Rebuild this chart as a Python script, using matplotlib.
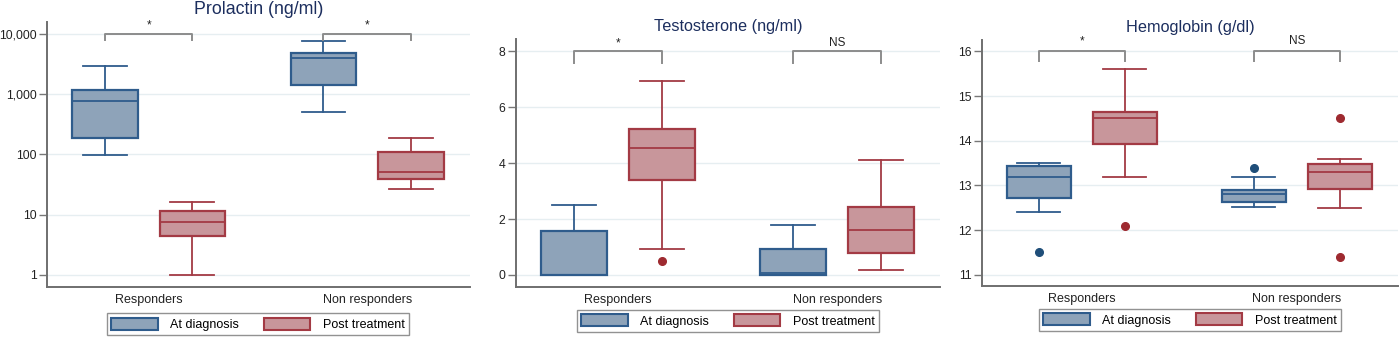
import matplotlib.pyplot as plt
import numpy as np

plt.rcParams['font.family'] = ['Liberation Sans', 'DejaVu Sans']

groups = ['Responders', 'Non responders']
series = ['At diagnosis', 'Post treatment']

# box stats per panel: [whislo, q1, med, q3, whishi], order: resp diag, resp post, nonresp diag, nonresp post
prl_stats = [[96, 188, 785, 1165, 2900],
             [1, 4.4, 7.6, 11.5, 16.5],
             [500, 1410, 4060, 4900, 7650],
             [27, 39, 51, 109, 184]]
prl_fliers = [[], [], [], []]

tes_stats = [[0, 0, 0, 1.57, 2.5],
             [0.94, 3.41, 4.53, 5.23, 6.95],
             [0, 0.01, 0.08, 0.93, 1.79],
             [0.17, 0.79, 1.61, 2.44, 4.1]]
tes_fliers = [[], [0.51], [], []]

hb_stats = [[12.4, 12.72, 13.2, 13.44, 13.5],
            [13.2, 13.92, 14.5, 14.65, 15.6],
            [12.51, 12.62, 12.81, 12.89, 13.2],
            [12.5, 12.92, 13.31, 13.49, 13.6]]
hb_fliers = [[11.5], [12.1], [13.4], [14.5, 11.4]]

# significance labels per group
prl_sig = ['*', '*']
tes_sig = ['*', 'NS']
hb_sig = ['*', 'NS']

fill_cols = ['#8ea3b9', '#c8969b']
edge_cols = ['#2f5c8c', '#a33a44']
dot_cols = ['#1f4e79', '#9e2a30']

fig = plt.figure(figsize=(14, 3.38), dpi=100)

panels = [
  dict(title='Prolactin (ng/ml)', stats=prl_stats, fliers=prl_fliers, sig=prl_sig,
       rect=[0.0336, 0.151, 0.302, 0.784], log=True, ylim=(0.63, 15800),
       ticks=[1, 10, 100, 1000, 10000], labels=['1', '10', '100', '1,000', '10,000'],
       br=(10000, 8070), txt=13800, tsize=12.8, legx=258 / 1400, legy=0.041),
  dict(title='Testosterone (ng/ml)', stats=tes_stats, fliers=tes_fliers, sig=tes_sig,
       rect=[0.3686, 0.151, 0.303, 0.734], log=False, ylim=(-0.43, 8.45),
       ticks=[0, 2, 4, 6, 8], labels=['0', '2', '4', '6', '8'],
       br=(8.0, 7.6), txt=8.3, tsize=11.7, legx=728 / 1400, legy=0.050),
  dict(title='Hemoglobin (g/dl)', stats=hb_stats, fliers=hb_fliers, sig=hb_sig,
       rect=[0.7014, 0.154, 0.297, 0.728], log=False, ylim=(10.75, 16.26),
       ticks=[11, 12, 13, 14, 15, 16], labels=['11', '12', '13', '14', '15', '16'],
       br=(16.01, 15.78), txt=16.23, tsize=11.7, legx=1190 / 1400, legy=0.053),
]

positions = [0.8, 1.2, 1.8, 2.2]

for p in panels:
  ax = fig.add_axes(p['rect'])
  if p['log']:
    ax.set_yscale('log')
  bxstats = []
  for s, fl in zip(p['stats'], p['fliers']):
    bxstats.append(dict(whislo=s[0], q1=s[1], med=s[2], q3=s[3], whishi=s[4], fliers=fl))
  for i in range(4):
    k = i % 2
    ax.bxp([bxstats[i]], positions=[positions[i]], widths=0.3, patch_artist=True,
           boxprops=dict(facecolor=fill_cols[k], edgecolor=edge_cols[k], linewidth=1.6),
           medianprops=dict(color=edge_cols[k], linewidth=1.3),
           whiskerprops=dict(color=edge_cols[k], linewidth=1.3),
           capprops=dict(color=edge_cols[k], linewidth=1.3),
           flierprops=dict(marker='o', markerfacecolor=dot_cols[k], markeredgecolor=dot_cols[k], markersize=5.5),
           capwidths=0.2, manage_ticks=False)

  # brackets
  for g in range(2):
    x0, x1 = positions[2 * g], positions[2 * g + 1]
    ax.plot([x0, x0, x1, x1], [p['br'][1], p['br'][0], p['br'][0], p['br'][1]],
            color='#8c8c8c', lw=1.4, clip_on=False)
    ax.text((x0 + x1) / 2, p['txt'], p['sig'][g], ha='center', va='center', fontsize=8.5, color='#222222')

  ax.set_xlim(0.535, 2.47)
  ax.set_ylim(*p['ylim'])
  ax.set_yticks(p['ticks'])
  ax.set_yticklabels(p['labels'])
  ax.minorticks_off()
  ax.set_xticks([1, 2])
  ax.set_xticklabels(groups)
  ax.tick_params(axis='x', length=0, pad=5, labelsize=9, colors='#222222')
  ax.tick_params(axis='y', length=6, width=1, color='#777777', labelsize=8.8, labelcolor='#222222', pad=1.5)
  ax.grid(axis='y', color='#e6eef1', lw=1)
  ax.set_axisbelow(True)
  for sp in ['top', 'right']:
    ax.spines[sp].set_visible(False)
  for sp in ['left', 'bottom']:
    ax.spines[sp].set_color('#6f6f6f')
    ax.spines[sp].set_linewidth(1.4)
  ax.set_title(p['title'], fontsize=p['tsize'], color='#1c2e5e', pad=6)

  handles = [plt.Rectangle((0, 0), 1, 1, facecolor=fill_cols[k], edgecolor=edge_cols[k], lw=1.5) for k in range(2)]
  fig.legend(handles, series, loc='center', bbox_to_anchor=(p['legx'], p['legy']), ncol=2,
             fontsize=9, frameon=True, fancybox=False, edgecolor='#777777', handlelength=3.7,
             handleheight=1.1, columnspacing=2.0, handletextpad=1.0, borderpad=0.35)

plt.savefig('out.png', dpi=100)
